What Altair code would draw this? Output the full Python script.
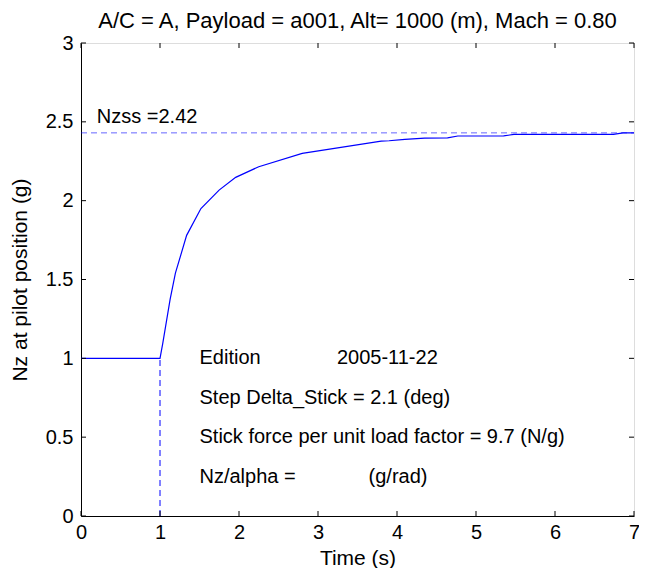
import altair as alt
import pandas as pd

FONT = "Liberation Sans"
FS = 20

# Response curve (time in s, Nz in g)
time_s = [0.0, 1.0, 1.035, 1.128, 1.195, 1.337, 1.518, 1.748, 1.958, 2.25, 2.80,
          3.80, 3.90, 4.10, 4.35, 4.64, 4.77, 5.35, 5.48, 6.74, 6.86, 7.0]
nz_g = [1.0, 1.0, 1.095, 1.374, 1.54, 1.78, 1.95, 2.067, 2.148, 2.215, 2.30,
        2.378, 2.380, 2.389, 2.397, 2.398, 2.41, 2.411, 2.42, 2.42, 2.43, 2.43]

nzss_value = 2.43
step_time = 1.0

x_ticks = [0, 1, 2, 3, 4, 5, 6, 7]
y_ticks = [0, 0.5, 1, 1.5, 2, 2.5, 3]

note_text = ["Nzss =2.42", "Edition", "2005-11-22", "Step Delta_Stick = 2.1 (deg)",
             "Stick force per unit load factor = 9.7 (N/g)", "Nz/alpha =", "(g/rad)"]
note_x = [0.2, 1.5, 3.24, 1.5, 1.5, 1.5, 3.64]
note_y = [2.53, 1.0, 1.0, 0.75, 0.5, 0.25, 0.25]

W, H = 553, 473
TL = 5

curve = pd.DataFrame({"t": time_s, "nz": nz_g})
notes = pd.DataFrame({"x": note_x, "y": note_y, "text": note_text})
xt = pd.DataFrame({"v": x_ticks})
yt = pd.DataFrame({"v": y_ticks})

xs = alt.Scale(domain=[0, 7], nice=False, zero=False)
ys = alt.Scale(domain=[0, 3], nice=False, zero=False)

xaxis = alt.Axis(values=x_ticks, tickSize=0, labelPadding=6, grid=False, format="~g",
                 domainColor="black", labelColor="black", titleColor="black",
                 labelFont=FONT, titleFont=FONT, labelFontSize=FS, titleFontSize=21,
                 titleFontWeight="normal", titlePadding=5, labelFlush=False)
yaxis = alt.Axis(values=y_ticks, tickSize=0, labelPadding=8, grid=False, format="~g",
                 domainColor="black", labelColor="black", titleColor="black",
                 labelFont=FONT, titleFont=FONT, labelFontSize=FS, titleFontSize=21,
                 titleFontWeight="normal", titlePadding=15, labelFlush=False)

line = alt.Chart(curve).mark_line(color="#0000ff", strokeWidth=1.2).encode(
    x=alt.X("t:Q", scale=xs, axis=xaxis, title="Time (s)"),
    y=alt.Y("nz:Q", scale=ys, axis=yaxis, title="Nz at pilot position (g)"),
)

hdash = alt.Chart(pd.DataFrame({"y": [nzss_value], "x0": [0], "x1": [7]})).mark_rule(
    color="#0000ff", strokeWidth=1, strokeDash=[6, 4], opacity=0.6
).encode(x=alt.X("x0:Q", scale=xs), x2="x1:Q", y=alt.Y("y:Q", scale=ys))

vdash = alt.Chart(pd.DataFrame({"x": [step_time], "y0": [0], "y1": [1]})).mark_rule(
    color="#0000ff", strokeWidth=1, strokeDash=[6, 4]
).encode(x=alt.X("x:Q", scale=xs), y=alt.Y("y0:Q", scale=ys), y2="y1:Q")

text = alt.Chart(notes).mark_text(align="left", baseline="middle", font=FONT,
                                  fontSize=FS, color="black").encode(
    x=alt.X("x:Q", scale=xs), y=alt.Y("y:Q", scale=ys), text="text:N")

tick_b = alt.Chart(xt).mark_rule(color="black").encode(
    x=alt.X("v:Q", scale=xs), y=alt.value(H), y2=alt.value(H - TL))
tick_t = alt.Chart(xt).mark_rule(color="black").encode(
    x=alt.X("v:Q", scale=xs), y=alt.value(0), y2=alt.value(TL))
tick_l = alt.Chart(yt).mark_rule(color="black").encode(
    y=alt.Y("v:Q", scale=ys), x=alt.value(0), x2=alt.value(TL))
tick_r = alt.Chart(yt).mark_rule(color="black").encode(
    y=alt.Y("v:Q", scale=ys), x=alt.value(W), x2=alt.value(W - TL))

chart = alt.layer(hdash, vdash, line, text, tick_b, tick_t, tick_l, tick_r).properties(
    width=W, height=H,
    title=alt.TitleParams("A/C = A, Payload = a001, Alt= 1000 (m), Mach = 0.80",
                          font=FONT, fontSize=22, fontWeight="normal", color="black",
                          anchor="middle", offset=0),
    autosize=alt.AutoSizeParams(type="none"),
    padding={"left": 73, "top": 35, "right": 5, "bottom": 52},
).configure_view(stroke="black", strokeWidth=1).configure(background="white")

chart.save("out.html", embed_options={"renderer": "svg", "actions": False})
